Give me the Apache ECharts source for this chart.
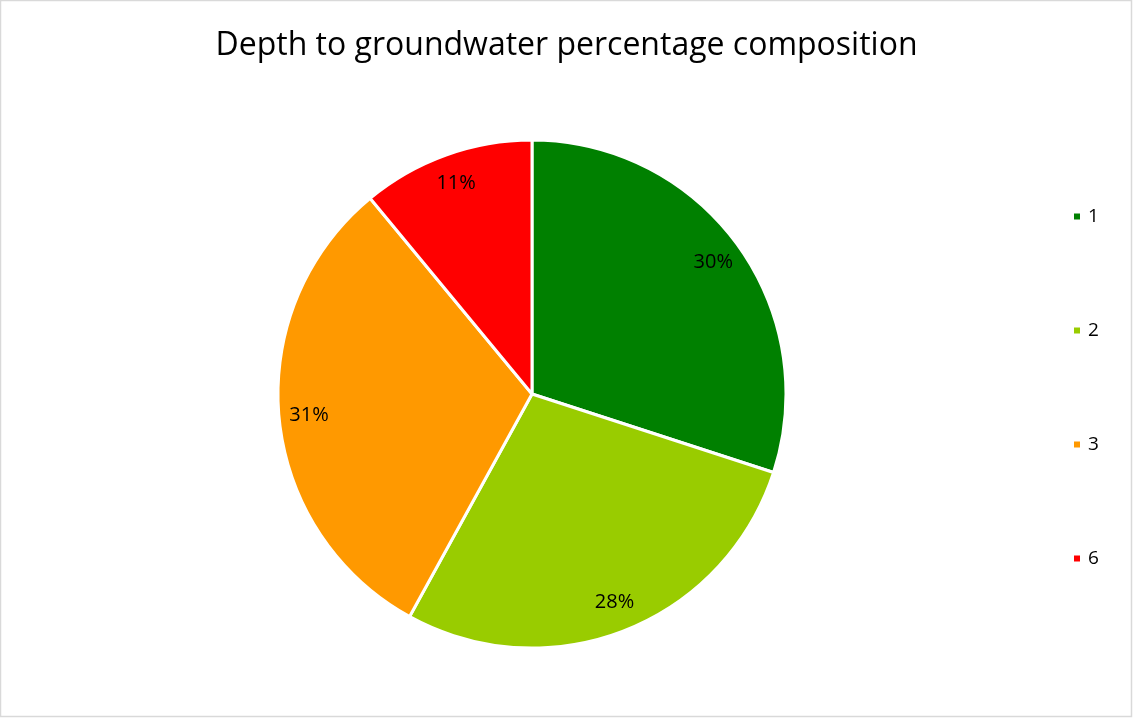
<!DOCTYPE html>
<html>
<head>
<meta charset="utf-8">
<script src="https://cdn.jsdelivr.net/npm/echarts@6/dist/echarts.min.js"></script>
<style>
  html, body { margin: 0; padding: 0; background: #fff; }
  #chart { width: 1133px; height: 719px; }
</style>
</head>
<body>
<div id="chart"></div>
<script>
// Depth-to-groundwater classes and their share of the area (%)
const categories = ['1', '2', '3', '6'];
const shares = [30, 28, 31, 11];
const colors = ['#008000', '#99CC00', '#FF9900', '#FF0000'];

const pieData = categories.map((name, i) => ({
  name: name,
  value: shares[i],
  itemStyle: { color: colors[i] }
}));

const chart = echarts.init(document.getElementById('chart'));
const center = [532, 394];
const font = 'Open Sans';

chart.setOption({
  animation: false,
  backgroundColor: '#ffffff',
  title: {
    text: 'Depth to groundwater percentage composition',
    left: 'center',
    top: 25,
    textStyle: {
      fontFamily: font,
      fontSize: 32,
      fontWeight: 'normal',
      color: '#000000'
    }
  },
  legend: {
    orient: 'vertical',
    left: 1067,
    top: 202,
    itemWidth: 8,
    itemHeight: 8,
    itemGap: 95,
    icon: 'rect',
    data: categories,
    textStyle: {
      fontFamily: font,
      fontSize: 19,
      lineHeight: 16,
      color: '#000000',
      padding: [0, 0, 0, 2]
    }
  },
  graphic: [{
    type: 'rect',
    shape: { x: 0.5, y: 0.5, width: 1131, height: 716 },
    style: { fill: 'none', stroke: '#d9d9d9', lineWidth: 1.5 },
    silent: true
  }],
  series: [
    {
      type: 'pie',
      center: center,
      radius: 254,
      startAngle: 90,
      clockwise: true,
      data: pieData,
      label: { show: false },
      labelLine: { show: false },
      itemStyle: { borderColor: '#ffffff', borderWidth: 3 },
      emphasis: { disabled: true }
    },
    {
      // transparent ring that only carries the percentage labels
      type: 'pie',
      center: center,
      radius: [188, 254],
      startAngle: 90,
      clockwise: true,
      silent: true,
      legendHoverLink: false,
      data: categories.map((name, i) => ({
        name: name,
        value: shares[i],
        itemStyle: { color: 'rgba(0,0,0,0)' }
      })),
      label: {
        show: true,
        position: 'inside',
        formatter: p => p.value + '%',
        fontFamily: font,
        fontSize: 20,
        color: '#000000'
      },
      labelLine: { show: false },
      emphasis: { disabled: true }
    }
  ]
});
</script>
</body>
</html>
